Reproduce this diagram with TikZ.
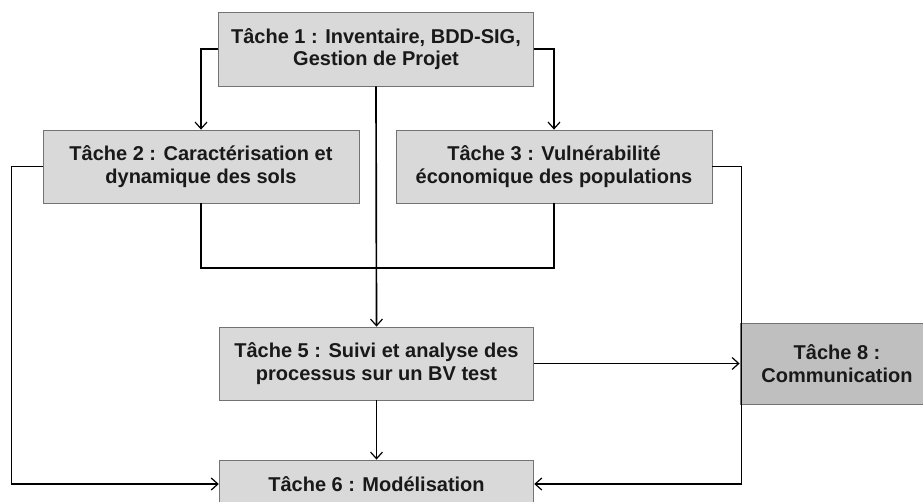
\documentclass[tikz,border=0pt]{standalone}
\usepackage{fontspec}
\setmainfont{Liberation Sans}
\usetikzlibrary{arrows.meta}
\usetikzlibrary{positioning}

\begin{document}
\begin{tikzpicture}[x=0.75pt,y=-0.75pt,
  tache/.style={draw=black!55,fill=black!15,line width=0.6pt,align=center,
    font=\fontsize{15}{17}\selectfont\bfseries,text=black!90,inner sep=0pt},
  fleche/.style={line width=1.25pt,-{Straight Barb[length=5pt,width=9pt,line width=0.9pt]}},
  lien/.style={line width=1.25pt}]
\useasboundingbox (0,0) rectangle (923,501);

\node[tache,minimum width=236pt,minimum height=55.5pt] (t1) at (376,49) {T\^ache 1 : Inventaire, BDD-SIG,\\Gestion de Projet};
\node[tache,minimum width=237pt,minimum height=54.75pt] (t2) at (201,166.5) {T\^ache 2 : Caract\'erisation et\\dynamique des sols};
\node[tache,minimum width=237pt,minimum height=54.75pt] (t3) at (554,166.5) {T\^ache 3 : Vuln\'erabilit\'e\\\'economique des populations};
\node[tache,minimum width=236pt,minimum height=54.75pt] (t5) at (376.5,363.5) {T\^ache 5 : Suivi et analyse des\\processus sur un BV test};
\node[tache,minimum width=236pt,minimum height=36pt] (t6) at (376.5,484) {T\^ache 6 : Mod\'elisation};
\node[tache,fill=black!25,minimum width=145.5pt,minimum height=60.75pt] (t8) at (837,363.5) {T\^ache 8 :\\Communication};

\coordinate (j) at (376,268);

\draw[fleche] (t1.west) -| (t2.north);
\draw[fleche] (t1.east) -| (t3.north);
\draw[fleche] (t1.south) -- (t5.north);
\draw[lien] (t2.south) |- (j) -| (t3.south);
\draw[fleche] (t2.west) -- ++(-31,0) |- (t6.west);
\draw[fleche] (t3.east) -- ++(29,0) |- (t6.east);
\draw[fleche] (t5.east) -- (t8.west);
\draw[fleche] (t5.south) -- (t6.north);

\end{tikzpicture}
\end{document}
